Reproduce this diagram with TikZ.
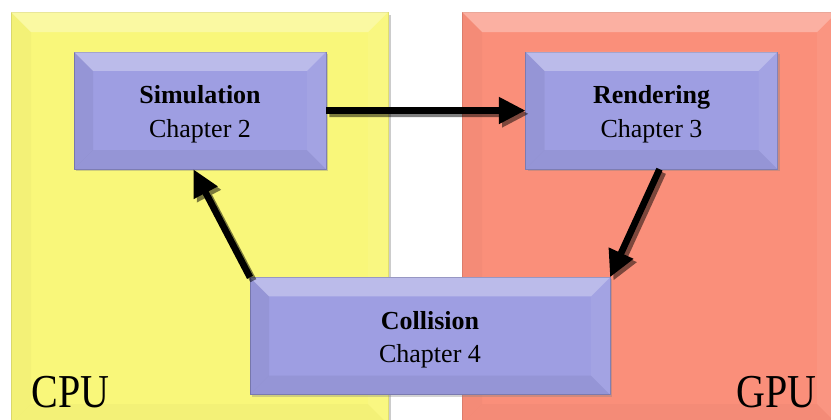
\documentclass[tikz,border=0pt]{standalone}
\usepackage{fontspec}
\setmainfont{Liberation Serif}
\usetikzlibrary{arrows.meta,calc,shadows}

\definecolor{cpuyellow}{RGB}{249,247,122}
\definecolor{gpusalmon}{RGB}{250,143,122}
\definecolor{stagelilac}{RGB}{158,158,226}

\tikzset{every picture/.style={line width=0.75pt}}
\tikzset{
  panel/.style={draw=#1!90!black, line width=0.5pt, fill=#1, outer sep=0pt, inner sep=0pt,
    drop shadow={shadow xshift=2.5pt, shadow yshift=-2pt, opacity=.4}},
  stagebox/.style={draw=stagelilac!80!black, line width=0.5pt, fill=stagelilac, outer sep=0pt, inner sep=0pt,
    minimum width=189pt, minimum height=88pt, align=center,
    font=\fontsize{19.5}{25}\selectfont,
    drop shadow={shadow xshift=1.5pt, shadow yshift=-1.5pt, opacity=.35}},
  hwlabel/.style={anchor=base west, inner sep=0pt, font=\fontsize{30}{34}\selectfont},
  flow/.style={line width=5pt, -{Triangle[length=20pt,width=19pt]}},
  flowshadow/.style={flow, draw=black, transform canvas={xshift=2.5pt,yshift=-2.5pt}}
}

% bevel of a box: #1 node, #2 depth, #3 side shading
\newcommand{\bevelbox}[3]{%
  \fill[white,opacity=.3] (#1.north west) -- (#1.north east) -- ($(#1.north east)+(-#2,#2)$) -- ($(#1.north west)+(#2,#2)$) -- cycle;
  \fill[black,opacity=#3] (#1.north west) -- ($(#1.north west)+(#2,#2)$) -- ($(#1.south west)+(#2,-#2)$) -- (#1.south west) -- cycle;
  \fill[white,opacity=.06] (#1.north east) -- ($(#1.north east)+(-#2,#2)$) -- ($(#1.south east)+(-#2,-#2)$) -- (#1.south east) -- cycle;
  \fill[black,opacity=#3] (#1.south west) -- ($(#1.south west)+(#2,-#2)$) -- ($(#1.south east)+(-#2,-#2)$) -- (#1.south east) -- cycle;
}

\begin{document}
\begin{tikzpicture}[x=0.75pt,y=0.75pt,yscale=-1,xscale=1]
\useasboundingbox (0,0) rectangle (831,419);

%Panels
\node [panel=cpuyellow, minimum width=282.75pt, minimum height=309pt] (cpu) at (199.5,218) {};
\node [panel=gpusalmon, minimum width=281.25pt, minimum height=309pt] (gpu) at (649.5,218) {};
\bevelbox{cpu}{20}{.025}
\bevelbox{gpu}{20}{.025}

% Text Node
\node [hwlabel] (cpulabel) at (31,407) {\scalebox{1}[1.18]{CPU}};
% Text Node
\node [hwlabel] (gpulabel) at (736,407) {\scalebox{1}[1.18]{GPU}};

%Stages
\node [stagebox] (sim) at (200,110.5) {\rule{0pt}{19pt}\textbf{Simulation}\\Chapter 2};
\node [stagebox] (rend) at (651.5,110.5) {\rule{0pt}{19pt}\textbf{Rendering}\\Chapter 3};
\node [stagebox, minimum width=270pt] (coll) at (430,336) {\rule{0pt}{19pt}\textbf{Collision}\\Chapter 4};
\bevelbox{sim}{19}{.05}
\bevelbox{rend}{19}{.05}
\bevelbox{coll}{19}{.05}

%Arrows
\begin{scope}[transparency group, opacity=.5]
\draw [flowshadow] (sim.east) -- (rend.west);
\draw [flowshadow] ([xshift=6pt]rend.south) -- (coll.north east);
\draw [flowshadow] (coll.north west) -- ([xshift=-5pt]sim.south);
\end{scope}
\draw [flow] (sim.east) -- (rend.west);
\draw [flow] ([xshift=6pt]rend.south) -- (coll.north east);
\draw [flow] (coll.north west) -- ([xshift=-5pt]sim.south);

\end{tikzpicture}
\end{document}
